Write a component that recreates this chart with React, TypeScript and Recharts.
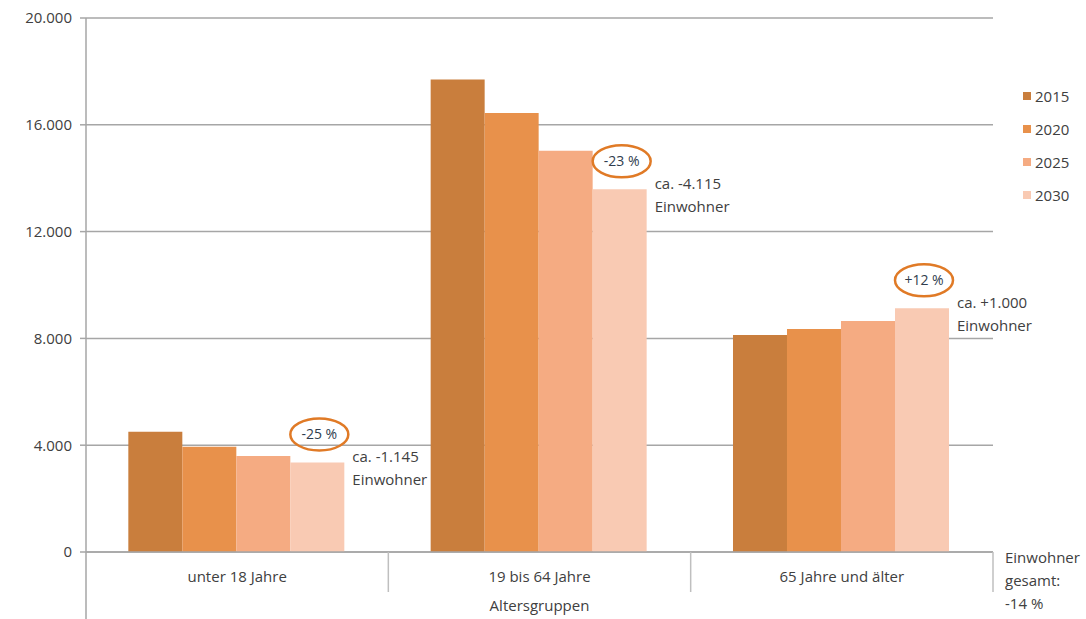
import React from 'react';
import { BarChart, Bar, XAxis, YAxis, CartesianGrid, LabelList } from 'recharts';

// Altersgruppen und Einwohnerzahlen je Prognosejahr
const categories = ['unter 18 Jahre', '19 bis 64 Jahre', '65 Jahre und älter'];
const years = ['2015', '2020', '2025', '2030'];
const values2015 = [4500, 17700, 8130];
const values2020 = [3940, 16440, 8350];
const values2025 = [3600, 15030, 8650];
const values2030 = [3355, 13585, 9130];

// Veränderung 2015 -> 2030
const changePct = ['-25 %', '-23 %', '+12 %'];
const changeAbs = ['ca. -1.145', 'ca. -4.115', 'ca. +1.000'];

const yTicks = [0, 4000, 8000, 12000, 16000, 20000];

const colors = ['#C97E3D', '#E8914B', '#F5AB82', '#F9CAB3'];
const FONT = '"Open Sans", sans-serif';
const TEXT = '#404040';
const FS = 15;

const data = categories.map((name, i) => ({
  name,
  y2015: values2015[i],
  y2020: values2020[i],
  y2025: values2025[i],
  y2030: values2030[i],
}));

const fmt = (v: number) => String(v).replace(/\B(?=(\d{3})+(?!\d))/g, '.');

const CategoryTick = (props: any) => {
  const { x, y, payload, index, width } = props;
  const band = width / categories.length;
  const top = y - 8;
  return (
    <g>
      {index === 0 && (
        <line x1={x - band / 2} x2={x - band / 2} y1={top} y2={top + 70} stroke="#a6a6a6" strokeWidth={1.5} />
      )}
      <line x1={x + band / 2} x2={x + band / 2} y1={top} y2={top + 40} stroke="#bfbfbf" strokeWidth={1.5} />
      <text x={x} y={y + 22} textAnchor="middle" fontFamily={FONT} fontSize={FS} fill={TEXT}>
        {payload.value}
      </text>
      {index === 1 && (
        <text x={x} y={y + 51} textAnchor="middle" fontFamily={FONT} fontSize={FS} fill={TEXT}>
          Altersgruppen
        </text>
      )}
    </g>
  );
};

const Annotation = (props: any) => {
  const { x, y, width, index } = props;
  const cx = x + width / 2 + 2;
  const cy = y - 28;
  const tx = x + width + 8;
  return (
    <g>
      <ellipse cx={cx} cy={cy} rx={29} ry={16} fill="none" stroke="#E07A26" strokeWidth={2.5} />
      <text x={cx} y={cy + 5} textAnchor="middle" fontFamily={FONT} fontSize={14} fill="#2f3d4e">
        {changePct[index]}
      </text>
      <text x={tx} y={y} fontFamily={FONT} fontSize={FS} fill={TEXT}>
        {changeAbs[index]}
      </text>
      <text x={tx} y={y + 23} fontFamily={FONT} fontSize={FS} fill={TEXT}>
        Einwohner
      </text>
    </g>
  );
};

export default function App() {
  return (
    <div style={{ position: 'absolute', left: 0, top: 0, width: 1086, height: 619, background: '#fff' }}>
      <BarChart
        width={1086}
        height={619}
        data={data}
        margin={{ top: 18, right: 93, left: 16, bottom: 0 }}
        barCategoryGap="14%"
        barGap={0}
      >
        <CartesianGrid vertical={false} stroke="#a6a6a6" strokeWidth={1.5} />
        <XAxis
          dataKey="name"
          height={67}
          axisLine={{ stroke: '#a6a6a6', strokeWidth: 1.5 }}
          tickLine={false}
          tick={<CategoryTick />}
          interval={0}
        />
        <YAxis
          width={70}
          domain={[0, 20000]}
          ticks={yTicks}
          tickFormatter={fmt}
          tickSize={6}
          tickMargin={8}
          axisLine={{ stroke: '#a6a6a6', strokeWidth: 1.5 }}
          tickLine={{ stroke: '#a6a6a6', strokeWidth: 1.5 }}
          tick={{ fontFamily: FONT, fontSize: FS, fill: TEXT }}
        />
        <Bar dataKey="y2015" name="2015" fill={colors[0]} isAnimationActive={false} />
        <Bar dataKey="y2020" name="2020" fill={colors[1]} isAnimationActive={false} />
        <Bar dataKey="y2025" name="2025" fill={colors[2]} isAnimationActive={false} />
        <Bar dataKey="y2030" name="2030" fill={colors[3]} isAnimationActive={false}>
          <LabelList dataKey="y2030" content={<Annotation />} />
        </Bar>
      </BarChart>
      <div style={{ position: 'absolute', left: 1023, top: 79, fontFamily: FONT, fontSize: FS, color: TEXT }}>
        {years.map((yr, i) => (
          <div key={yr} style={{ height: 33, display: 'flex', alignItems: 'center' }}>
            <span style={{ width: 8, height: 8, background: colors[i], marginRight: 4, display: 'inline-block' }} />
            <span>{yr}</span>
          </div>
        ))}
      </div>
      <div
        style={{
          position: 'absolute',
          left: 1005,
          top: 546,
          fontFamily: FONT,
          fontSize: FS,
          lineHeight: '23px',
          color: TEXT,
        }}
      >
        Einwohner
        <br />
        gesamt:
        <br />
        -14 %
      </div>
    </div>
  );
}
